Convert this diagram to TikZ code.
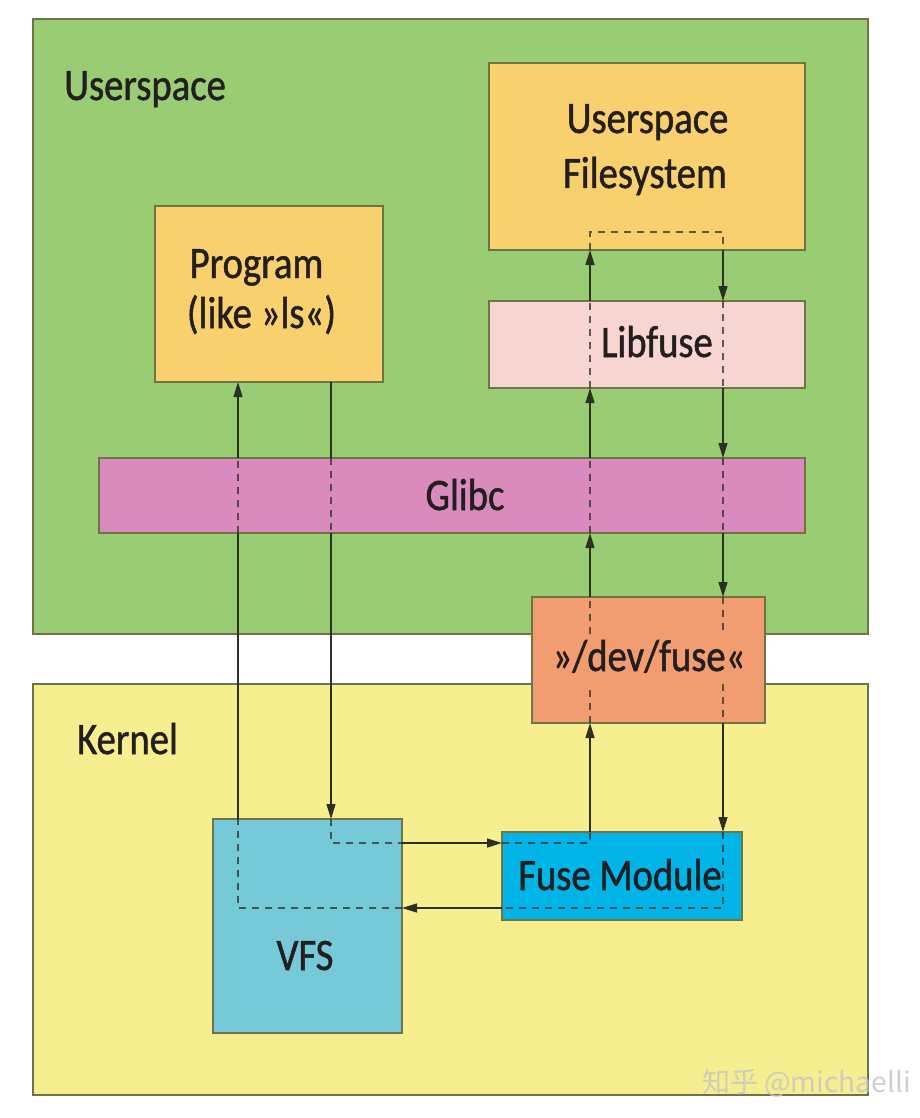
\documentclass[tikz,border=0pt]{standalone}
\usepackage{fontspec}
\setmainfont[FakeStretch=0.86,UprightFeatures={FakeBold=1.1}]{Carlito}
\newfontfamily\cjkwm{Noto Sans CJK SC}
\usetikzlibrary{arrows.meta}
\definecolor{userbg}{HTML}{99CC73}
\definecolor{kernbg}{HTML}{F7EE8F}
\definecolor{orangebox}{HTML}{F8D06E}
\definecolor{libfbox}{HTML}{F6D5D2}
\definecolor{glibcbox}{HTML}{D98BBE}
\definecolor{devbox}{HTML}{F29C72}
\definecolor{vfsbox}{HTML}{76CAD8}
\definecolor{fusebox}{HTML}{00B4E8}
\definecolor{boxline}{HTML}{6E7448}
\definecolor{ln}{HTML}{2E3028}
\definecolor{txt}{HTML}{231F20}
\begin{document}
\begin{tikzpicture}[x=1pt,y=-1pt,
  box/.style={draw=boxline, line width=1.3pt, rectangle, inner sep=0pt, outer sep=0pt},
  lbl/.style={anchor=base, text=txt, font=\fontsize{45}{54}\selectfont, inner sep=0pt},
  flow/.style={draw=ln, line width=1.3pt},
  arr/.style={flow, -{Triangle[length=15pt,width=9pt]}},
  dsh/.style={flow, draw opacity=0.75, dash pattern=on 7pt off 6pt}]
\useasboundingbox (0,0) rectangle (920,1118);
\fill[white] (0,0) rectangle (920,1118);

% regions
\node[box, fill=userbg, minimum width=835pt, minimum height=615pt] (user) at (450.5,326.5) {};
\node[box, fill=kernbg, minimum width=835pt, minimum height=411pt] (kern) at (450.5,889.5) {};
\node[lbl, anchor=base west] (userlbl) at (64,100) {Userspace};
\node[lbl, anchor=base west] (kernlbl) at (77,754) {Kernel};

% boxes
\node[box, fill=orangebox, minimum width=316pt, minimum height=187pt] (usfs) at (647,156.5) {};
\node[box, fill=libfbox, minimum width=316pt, minimum height=87pt] (libf) at (647,344.5) {};
\node[box, fill=orangebox, minimum width=228pt, minimum height=176pt] (prog) at (269,294) {};
\node[box, fill=glibcbox, minimum width=706pt, minimum height=75pt] (glibc) at (452,495.5) {};
\node[box, fill=devbox, minimum width=233pt, minimum height=126pt] (dev) at (648.5,660) {};
\node[box, fill=vfsbox, minimum width=189pt, minimum height=214pt] (vfs) at (307.5,926) {};
\node[box, fill=fusebox, minimum width=240pt, minimum height=88pt] (fuse) at (622,876) {};

% labels
\node[lbl] (usfs1) at (647.5,133) {Userspace};
\node[lbl] (usfs2) at (645,188) {Filesystem};
\node[lbl] (prog1) at (256.5,278) {Program};
\node[lbl] (prog2) at (261.5,328) {(like »ls«)};
\node[lbl] (libflbl) at (657,357) {Libfuse};
\node[lbl] (glibclbl) at (465,510) {Glibc};
\node[lbl] (devlbl) at (649,671) {»/dev/fuse«};
\node[lbl] (fuselbl) at (620,890) {Fuse Module};
\node[lbl] (vfslbl) at (305,970) {VFS};

% helper coordinates
\coordinate (ca) at (238,0);
\coordinate (cb) at (331,0);
\coordinate (cc) at (590,0);
\coordinate (cd) at (723,0);
\coordinate (r0) at (0,232);
\coordinate (r1) at (0,843);
\coordinate (r2) at (0,908);

% return path: fuse -> vfs -> program
\draw[dsh] (cd |- fuse.north) -- (cd |- r2) -- (r2 -| fuse.west);
\draw[arr] (r2 -| fuse.west) -- (r2 -| vfs.east);
\draw[dsh] (r2 -| vfs.east) -- (ca |- r2) -- (ca |- vfs.north);
\draw[flow] (ca |- vfs.north) -- (ca |- glibc.south);
\draw[dsh] (ca |- glibc.south) -- (ca |- glibc.north);
\draw[arr] (ca |- glibc.north) -- (ca |- prog.south);

% forward path: program -> vfs -> fuse -> dev -> libfuse -> usfs
\draw[flow] (cb |- prog.south) -- (cb |- glibc.north);
\draw[dsh] (cb |- glibc.north) -- (cb |- glibc.south);
\draw[arr] (cb |- glibc.south) -- (cb |- vfs.north);
\draw[dsh] (cb |- vfs.north) -- (cb |- r1) -- (r1 -| vfs.east);
\draw[arr] (r1 -| vfs.east) -- (r1 -| fuse.west);
\draw[dsh] (r1 -| fuse.west) -- (cc |- r1) -- (cc |- fuse.north);
\draw[arr] (cc |- fuse.north) -- (cc |- dev.south);
\draw[dsh] (cc |- dev.south) -- (cc |- kern.north);
\draw[dsh] (cc |- user.south) -- (cc |- dev.north);
\draw[arr] (cc |- dev.north) -- (cc |- glibc.south);
\draw[dsh] (cc |- glibc.south) -- (cc |- glibc.north);
\draw[arr] (cc |- glibc.north) -- (cc |- libf.south);
\draw[dsh] (cc |- libf.south) -- (cc |- libf.north);
\draw[arr] (cc |- libf.north) -- (cc |- usfs.south);
\draw[dsh] (cc |- usfs.south) -- (cc |- r0) -- (cd |- r0) -- (cd |- usfs.south);
\draw[arr] (cd |- usfs.south) -- (cd |- libf.north);
\draw[dsh] (cd |- libf.north) -- (cd |- libf.south);
\draw[arr] (cd |- libf.south) -- (cd |- glibc.north);
\draw[dsh] (cd |- glibc.north) -- (cd |- glibc.south);
\draw[arr] (cd |- glibc.south) -- (cd |- dev.north);
\draw[dsh] (cd |- dev.north) -- (cd |- user.south);
\draw[dsh] (cd |- kern.north) -- (cd |- dev.south);
\draw[arr] (cd |- dev.south) -- (cd |- fuse.north);

% watermark
\node[anchor=base west, inner sep=0pt, text=black!22, opacity=0.85, font=\cjkwm\fontsize{28}{32}\selectfont] (wm) at (702,1092) {知乎 @michaelli};
\end{tikzpicture}
\end{document}
